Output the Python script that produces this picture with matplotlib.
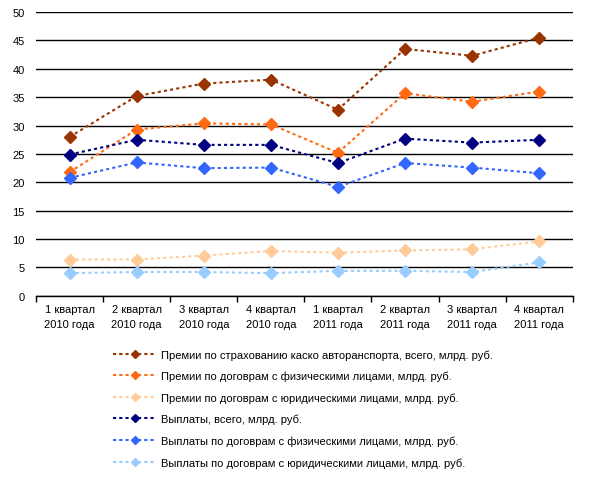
import matplotlib
matplotlib.use("Agg")
import matplotlib.pyplot as plt
import numpy as np

plt.rcParams['font.family'] = ['Liberation Sans', 'DejaVu Sans']

kvartaly = ["1 квартал\n2010 года", "2 квартал\n2010 года", "3 квартал\n2010 года",
            "4 квартал\n2010 года", "1 квартал\n2011 года", "2 квартал\n2011 года",
            "3 квартал\n2011 года", "4 квартал\n2011 года"]

premii_vsego = [28.0, 35.2, 37.4, 38.1, 32.8, 43.5, 42.3, 45.5]
premii_fiz = [21.8, 29.3, 30.4, 30.2, 25.2, 35.7, 34.2, 36.0]
premii_yur = [6.4, 6.4, 7.1, 7.9, 7.6, 8.0, 8.2, 9.6]
vyplaty_vsego = [24.9, 27.5, 26.6, 26.6, 23.4, 27.7, 27.0, 27.5]
vyplaty_fiz = [20.8, 23.5, 22.5, 22.6, 19.2, 23.4, 22.6, 21.6]
vyplaty_yur = [4.0, 4.2, 4.2, 4.0, 4.4, 4.4, 4.2, 5.9]

nazvaniya = ["Премии по страхованию каско авторанспорта, всего, млрд. руб.",
             "Премии по договрам с физическими лицами, млрд. руб.",
             "Премии по договрам с юридическими лицами, млрд. руб.",
             "Выплаты, всего, млрд. руб.",
             "Выплаты по договрам с физическими лицами, млрд. руб.",
             "Выплаты по договрам с юридическими лицами, млрд. руб."]

serii = [premii_vsego, premii_fiz, premii_yur, vyplaty_vsego, vyplaty_fiz, vyplaty_yur]
cveta = ['#993300', '#FF6A13', '#FFCC99', '#000080', '#3366FF', '#99CCFF']

fig = plt.figure(figsize=(6.01, 4.85), dpi=100)
ax = fig.add_axes([0.06, 0.388, 0.893, 0.585])

x = np.arange(len(kvartaly))
for y, c, name in zip(serii, cveta, nazvaniya):
    ax.plot(x, y, linestyle=(0, (1.5, 1.5)), color=c, lw=1.5, marker='D',
            markersize=6, markeredgecolor=c, label=name)

ax.set_xlim(-0.5, len(kvartaly) - 0.5)
ax.set_ylim(0, 50)
ax.set_yticks(range(0, 51, 5))
ax.set_xticks(x)
ax.set_xticklabels(kvartaly, fontsize=8, linespacing=1.6)
ax.set_xticks(np.arange(-0.5, len(kvartaly), 1), minor=True)
ax.tick_params(axis='x', which='major', length=0, pad=6)
ax.tick_params(axis='x', which='minor', length=4, width=1, direction='out')
ax.tick_params(axis='y', length=0, labelsize=8, pad=8)
ax.grid(axis='y', color='black', lw=1)
ax.set_axisbelow(True)
for s in ['top', 'right', 'left']:
    ax.spines[s].set_visible(False)
ax.spines['bottom'].set_linewidth(1)

leg = fig.legend(loc='upper left', bbox_to_anchor=(0.188, 0.278), frameon=False,
                 fontsize=8, handlelength=3.9, markerscale=0.7,
                 labelspacing=1.0, handletextpad=0.4, borderpad=0, borderaxespad=0)

fig.savefig("out.png", dpi=100)
